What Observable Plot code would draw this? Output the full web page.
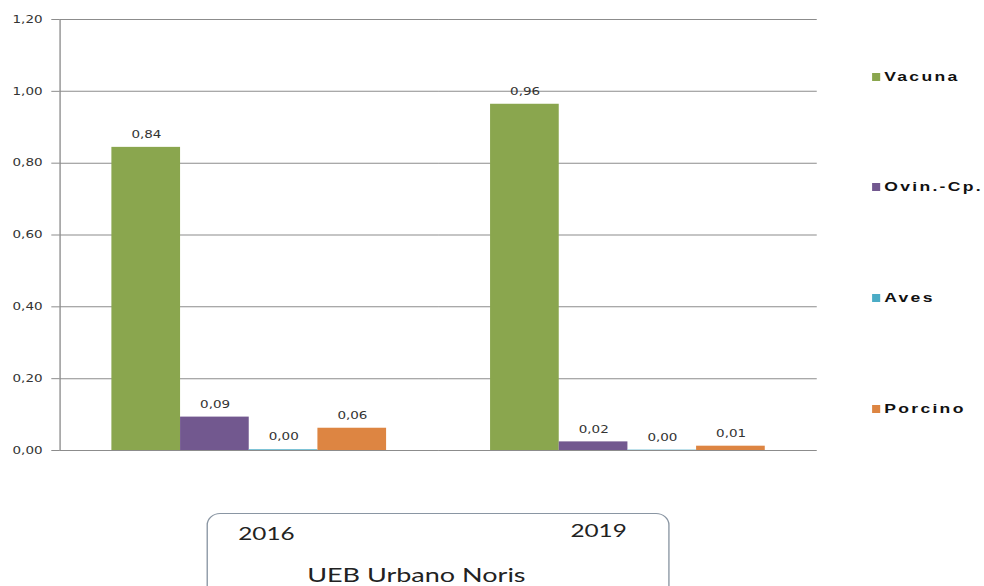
<!DOCTYPE html>
<html>
<head>
<meta charset="utf-8">
<script src="https://cdn.jsdelivr.net/npm/d3@7"></script>
<script src="https://cdn.jsdelivr.net/npm/@observablehq/plot@0.6"></script>
<style>
  html, body { margin: 0; padding: 0; background: #fff; overflow: hidden; }
  #wrap { position: relative; width: 984px; height: 586px; overflow: hidden; }
  #stage { position: absolute; left: 0; top: 0; width: 729px; height: 586px; transform: scaleX(1.35); transform-origin: 0 0; }
  #legend { position: absolute; left: 646px; top: 0; font-family: "Liberation Sans", Arial, sans-serif; font-weight: bold; font-size: 13px; letter-spacing: 1.7px; color: #111; }
  .li { position: absolute; left: 0; white-space: nowrap; height: 14px; line-height: 14px; }
  .sw { display: inline-block; width: 6px; height: 8px; margin-right: 3px; vertical-align: 0px; }
  #box { position: absolute; left: 152.5px; top: 513px; width: 343px; height: 100px; border: 1px solid #8a96a3; border-radius: 10px / 12px; box-sizing: border-box; font-family: Lato, "Open Sans", sans-serif; color: #222; }
  #box .yr { position: absolute; font-size: 18px; line-height: 18px; }
  #box .nm { position: absolute; font-size: 20px; line-height: 20px; left: 0; width: 100%; }
  g[aria-label="y-axis tick"] path, g[aria-label="y-axis"] .tick line { stroke: #8c8c8c; }
</style>
</head>
<body>
<div id="wrap"><div id="stage"><div id="chart"></div><div id="legend"></div><div id="box"></div></div></div>
<script>
const years = ["2016", "2019"];
const species = ["Vacuna", "Ovin.-Cp.", "Aves", "Porcino"];
const values2016 = [0.844, 0.093, 0.002, 0.062];
const values2019 = [0.964, 0.024, 0.001, 0.012];
const yTicks = [0, 0.2, 0.4, 0.6, 0.8, 1.0, 1.2];
const colors = ["#8aa64e", "#72588f", "#4bacc6", "#dd8542"];
const groupName = "UEB Urbano Noris";

const fmt = d => d.toFixed(2).replace(".", ",");
const data = [];
[values2016, values2019].forEach((vals, i) => {
  vals.forEach((v, j) => data.push({year: years[i], species: species[j], value: v}));
});

const chart = Plot.plot({
  width: 729,
  height: 586,
  marginLeft: 44,
  marginRight: 124,
  marginTop: 19,
  marginBottom: 136,
  style: {fontFamily: "DejaVu Sans, Verdana, sans-serif", fontSize: "10px", color: "#333", background: "transparent"},
  fx: {domain: years, padding: 0, axis: null, round: false},
  x: {domain: species, paddingInner: 0, paddingOuter: 0.757, axis: null, round: false},
  y: {domain: [0, 1.2], ticks: yTicks, tickFormat: fmt, tickSize: 6, tickPadding: 7, label: null},
  color: {domain: species, range: colors},
  marks: [
    Plot.ruleY(yTicks, {stroke: "#8c8c8c", strokeWidth: 1}),
    Plot.frame({anchor: "left", facetAnchor: "left", stroke: "#8c8c8c"}),
    Plot.barY(data, {fx: "year", x: "species", y: "value", fill: "species"}),
    Plot.text(data, {fx: "year", x: "species", y: "value", text: d => fmt(d.value), dy: -12.5, fill: "#333", fontSize: 10})
  ]
});
document.getElementById("chart").appendChild(chart);

// legend
const legendY = [77, 187, 298, 409];
const legend = d3.select("#legend");
species.forEach((s, i) => {
  const row = legend.append("div").attr("class", "li").style("top", (legendY[i] - 7) + "px");
  row.append("span").attr("class", "sw").style("background", colors[i]);
  row.append("span").text(s);
});

// category box
const box = d3.select("#box");
box.append("div").attr("class", "yr").style("left", "23px").style("top", "10px").text(years[0]);
box.append("div").attr("class", "yr").style("left", "269px").style("top", "7px").text(years[1]);
box.append("div").attr("class", "nm").style("top", "50px").style("left", "74px").text(groupName);
</script>
</body>
</html>
